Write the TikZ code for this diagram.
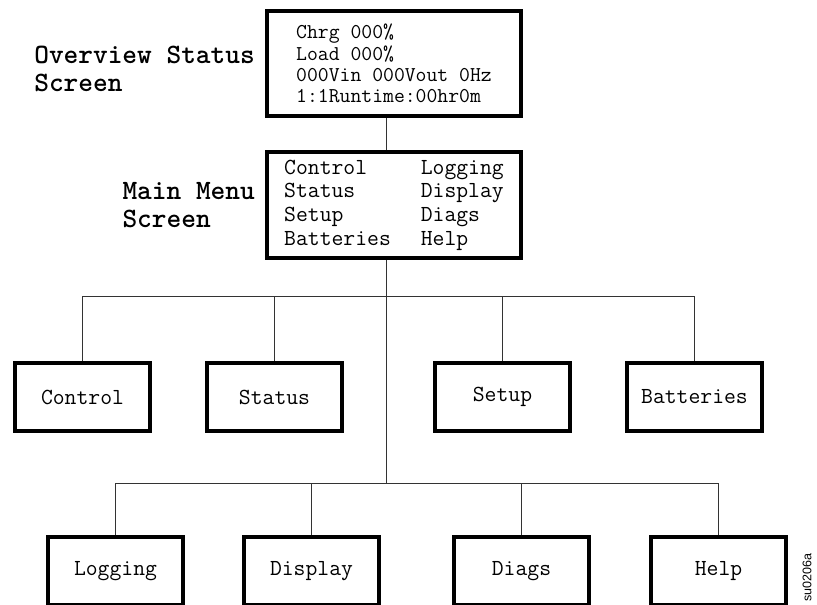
\documentclass[tikz,border=0pt]{standalone}
\usepackage{fontspec}
\newfontfamily\tagfamily{Liberation Sans}
\usetikzlibrary{positioning}

\newcommand{\lcdfont}{\ttfamily\fontsize{21.1}{21.3}\selectfont}
\newcommand{\menufont}{\ttfamily\fontsize{23}{23.7}\selectfont}
\newcommand{\titlefont}{\ttfamily\bfseries\fontsize{28}{28}\selectfont}

\begin{document}
\begin{tikzpicture}[
    x=1pt,
    y=-1pt,
    screen/.style={
        draw,
        line width=4pt,
        inner sep=0pt,
        align=left
    },
    lcd/.style={screen, minimum width=254pt, minimum height=105pt, font=\lcdfont},
    menubox/.style={screen, minimum width=135pt, minimum height=68pt, font=\menufont},
    title/.style={inner sep=0pt, align=left, font=\titlefont},
    wire/.style={line width=0.8pt, black!80},
    tag/.style={inner sep=0pt, font=\tagfamily\fontsize{12.5}{14}\selectfont}
]
\useasboundingbox (0,0) rectangle (817,605);

% ============================================================
% EKRANY
% ============================================================
\node[lcd] (overview) at (394,63.5) {Chrg 000\%\\Load 000\%\\000Vin 000Vout 0Hz\\1:1Runtime:00hr0m};
\node[lcd, minimum height=106pt, font=\menufont, below=32pt of overview] (mainmenu) {%
    \begin{tabular}{@{}l@{\hspace{30pt}}l@{}}
    Control & Logging\\
    Status & Display\\
    Setup & Diags\\
    Batteries & Help
    \end{tabular}};

\node[title, left=10pt of overview, yshift=-5pt] (overviewlabel) {Overview Status\\Screen};
\node[title, left=10pt of mainmenu] (mainmenulabel) {Main Menu\\Screen};

% ============================================================
% PIERWSZY RZAD
% ============================================================
\node[menubox] (control) at (82.5,397) {Control};
\node[menubox, right=53pt of control] (status) {Status};
\node[menubox, right=89pt of status] (setup) {Setup};
\node[menubox, right=53pt of setup] (batteries) {Batteries};

% ============================================================
% DRUGI RZAD
% ============================================================
\node[menubox] (logging) at (115.5,571) {Logging};
\node[menubox, right=57pt of logging] (display) {Display};
\node[menubox, right=71pt of display] (diags) {Diags};
\node[menubox, right=58pt of diags] (help) {Help};

% ============================================================
% POLACZENIA
% ============================================================
\coordinate (busone) at (386,296);
\coordinate (bustwo) at (386,483);

\draw[wire] (overview.south -| busone) -- (mainmenu.north -| busone);
\draw[wire] (mainmenu.south -| bustwo) -- (bustwo);

\draw[wire] (control.north |- busone) -- (batteries.north |- busone);
\draw[wire] (control.north) -- (control.north |- busone);
\draw[wire] (status.north) -- (status.north |- busone);
\draw[wire] (setup.north) -- (setup.north |- busone);
\draw[wire] (batteries.north) -- (batteries.north |- busone);

\draw[wire] (logging.north |- bustwo) -- (help.north |- bustwo);
\draw[wire] (logging.north) -- (logging.north |- bustwo);
\draw[wire] (display.north) -- (display.north |- bustwo);
\draw[wire] (diags.north) -- (diags.north |- bustwo);
\draw[wire] (help.north) -- (help.north |- bustwo);

\node[tag, rotate=90] (figcode) at (807,578) {su0206a};

\end{tikzpicture}
\end{document}
